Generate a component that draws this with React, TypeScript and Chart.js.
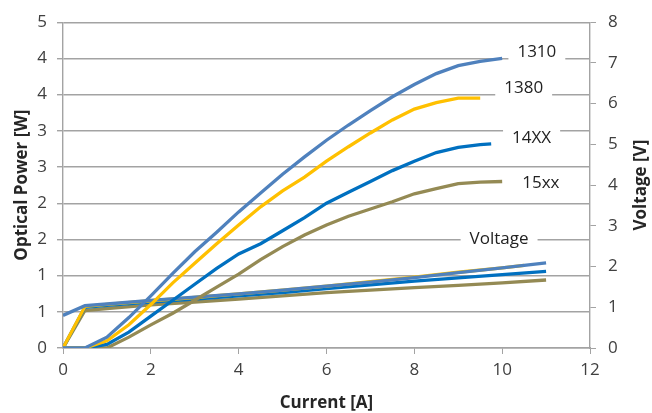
import { useEffect, useRef } from 'react';
import { Chart, registerables } from 'chart.js';

Chart.register(...registerables);

// ---- Data ----
const currentP = [0, 0.5, 1, 1.5, 2, 2.5, 3, 3.5, 4, 4.5, 5, 5.5, 6, 6.5, 7, 7.5, 8, 8.5, 9, 9.5, 10];
const current14xxP = [0, 0.5, 1, 1.5, 2, 2.5, 3, 3.5, 4, 4.5, 5, 5.5, 6, 6.5, 7, 7.5, 8, 8.5, 9, 9.5, 9.75];
const power1310 = [0, 0, 0.15, 0.42, 0.72, 1.03, 1.33, 1.6, 1.88, 2.14, 2.4, 2.64, 2.87, 3.08, 3.28, 3.47, 3.64, 3.79, 3.9, 3.96, 4.0];
const power1380 = [0, 0, 0.1, 0.32, 0.6, 0.9, 1.17, 1.44, 1.7, 1.95, 2.17, 2.36, 2.58, 2.78, 2.97, 3.15, 3.3, 3.39, 3.45, 3.45];
const power14xx = [0, 0, 0.05, 0.22, 0.44, 0.66, 0.88, 1.1, 1.3, 1.44, 1.62, 1.8, 2.0, 2.15, 2.3, 2.45, 2.58, 2.7, 2.77, 2.81, 2.82];
const power15xx = [0, 0, 0, 0.15, 0.32, 0.48, 0.66, 0.84, 1.02, 1.22, 1.4, 1.56, 1.7, 1.82, 1.92, 2.02, 2.13, 2.2, 2.27, 2.29, 2.3];

const currentV = [0, 0.5, 1, 2, 3, 4, 5, 6, 7, 8, 9, 10, 11];
const current1380V = [0, 0.5, 1, 2, 3, 4, 5, 6, 7, 8, 9, 10, 10.5];
const volt1310 = [0.8, 1.04, 1.08, 1.17, 1.25, 1.33, 1.42, 1.52, 1.62, 1.73, 1.85, 1.97, 2.09];
const volt1380 = [0, 1.02, 1.07, 1.16, 1.24, 1.33, 1.42, 1.52, 1.63, 1.74, 1.86, 1.97, 2.03];
const volt14xx = [0, 1.0, 1.05, 1.13, 1.2, 1.28, 1.36, 1.46, 1.55, 1.64, 1.72, 1.8, 1.88];
const volt15xx = [0, 0.92, 0.97, 1.06, 1.13, 1.2, 1.28, 1.36, 1.42, 1.48, 1.54, 1.6, 1.67];

const leftTickLabels = ['0', '1', '1', '2', '2', '3', '3', '4', '4', '5'];
const rightTickLabels = ['0', '1', '2', '3', '4', '5', '6', '7', '8'];
const xTickLabels = ['0', '2', '4', '6', '8', '10', '12'];

const labelTexts = ['1310', '1380', '14XX', '15xx', 'Voltage'];
const labelCurrents = [10.79, 10.49, 10.67, 10.88, 9.93];
const labelPowers = [4.08, 3.59, 2.9, 2.27, 1.51];

const xTitle = 'Current [A]';
const yTitle = 'Optical Power [W]';
const y1Title = 'Voltage [V]';

const C1310 = '#4F81BD';
const C1380 = '#FFC000';
const C14XX = '#0070C0';
const C15XX = '#948A54';

const FONT = '"Open Sans", "DejaVu Sans", sans-serif';
const TEXT = '#404040';
const GRID = '#a3a3a3';

const zip = (xs: number[], ys: number[]) => ys.map((y, i) => ({ x: xs[i], y }));

const mkSet = (label: string, xs: number[], ys: number[], color: string, axis: string) => ({
  label,
  data: zip(xs, ys),
  borderColor: color,
  backgroundColor: color,
  borderWidth: 3.3,
  pointRadius: 0,
  tension: 0,
  fill: false,
  yAxisID: axis,
});

const overlayPlugin = {
  id: 'overlay',
  afterDatasetsDraw(chart: any) {
    const { ctx, chartArea, scales } = chart;
    ctx.save();
    ctx.font = `17px ${FONT}`;
    ctx.textAlign = 'center';
    ctx.textBaseline = 'middle';
    labelTexts.forEach((t, i) => {
      const px = scales.x.getPixelForValue(labelCurrents[i]);
      const py = scales.y.getPixelForValue(labelPowers[i]);
      const w = ctx.measureText(t).width + 18;
      const h = 20;
      ctx.fillStyle = '#ffffff';
      ctx.fillRect(px - w / 2, py - h / 2, w, h);
      ctx.fillStyle = '#222222';
      ctx.fillText(t, px, py);
    });
    ctx.font = `bold 17px ${FONT}`;
    ctx.fillStyle = '#262626';
    const cy = (chartArea.top + chartArea.bottom) / 2;
    ctx.save();
    ctx.translate(22, cy);
    ctx.rotate(-Math.PI / 2);
    ctx.fillText(yTitle, 0, 0);
    ctx.restore();
    ctx.save();
    ctx.translate(641, cy);
    ctx.rotate(-Math.PI / 2);
    ctx.fillText(y1Title, 0, 0);
    ctx.restore();
    ctx.fillText(xTitle, (chartArea.left + chartArea.right) / 2, 403);
    ctx.restore();
  },
};

export default function App() {
  const ref = useRef<HTMLCanvasElement>(null);
  useEffect(() => {
    document.body.style.margin = '0';
    const canvas = ref.current!;
    const chart = new Chart(canvas, {
      type: 'line',
      data: {
        datasets: [
          mkSet('1310', currentP, power1310, C1310, 'y'),
          mkSet('1380', currentP.slice(0, power1380.length), power1380, C1380, 'y'),
          mkSet('14XX', current14xxP, power14xx, C14XX, 'y'),
          mkSet('15xx', currentP, power15xx, C15XX, 'y'),
          mkSet('1310 V', currentV, volt1310, C1310, 'y1'),
          mkSet('1380 V', current1380V, volt1380, C1380, 'y1'),
          mkSet('14XX V', currentV, volt14xx, C14XX, 'y1'),
          mkSet('15xx V', currentV, volt15xx, C15XX, 'y1'),
        ] as any,
      },
      options: {
        responsive: false,
        animation: false,
        devicePixelRatio: 1,
        layout: { padding: { top: 16, left: 0, right: 0, bottom: 0 } },
        plugins: {
          legend: { display: false },
          tooltip: { enabled: false },
          title: { display: false },
        },
        scales: {
          x: {
            type: 'linear',
            min: 0,
            max: 12,
            ticks: {
              stepSize: 2,
              color: TEXT,
              font: { family: FONT, size: 17 },
              padding: 6,
              maxRotation: 0,
              callback: (_v: any, i: number) => xTickLabels[i],
            },
            grid: { drawOnChartArea: false, drawTicks: true, tickLength: 6, color: GRID },
            border: { display: true, color: GRID, width: 1.4 },
            afterFit: (s: any) => { s.height = 65; },
          },
          y: {
            position: 'left',
            min: 0,
            max: 4.5,
            ticks: {
              stepSize: 0.5,
              color: TEXT,
              font: { family: FONT, size: 17 },
              padding: 10,
              callback: (_v: any, i: number) => leftTickLabels[i],
            },
            grid: { color: GRID, lineWidth: 1.4, tickLength: 6, drawTicks: true },
            border: { display: true, color: GRID, width: 1.4 },
            afterFit: (s: any) => { s.width = 63; },
          },
          y1: {
            position: 'right',
            min: 0,
            max: 8,
            ticks: {
              stepSize: 1,
              color: TEXT,
              font: { family: FONT, size: 17 },
              padding: 12,
              callback: (_v: any, i: number) => rightTickLabels[i],
            },
            grid: { drawOnChartArea: false, drawTicks: true, tickLength: 6, color: GRID },
            border: { display: true, color: GRID, width: 1.4 },
            afterFit: (s: any) => { s.width = 62; },
          },
        },
      } as any,
      plugins: [overlayPlugin],
    });
    return () => chart.destroy();
  }, []);
  return (
    <div style={{ width: 652, height: 413, position: 'relative', background: '#fff' }}>
      <canvas ref={ref} width={652} height={413} style={{ width: 652, height: 413, display: 'block' }} />
    </div>
  );
}
